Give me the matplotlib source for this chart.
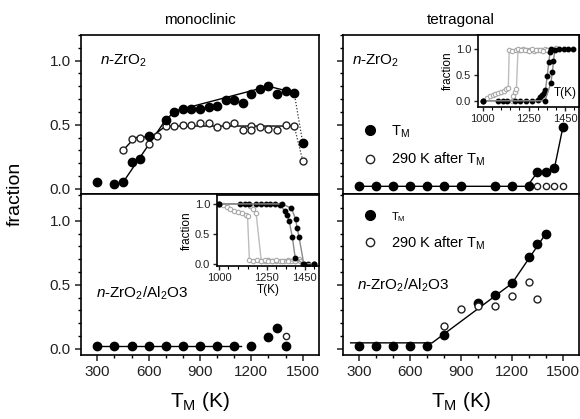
import numpy as np
import matplotlib
matplotlib.use("Agg")
import matplotlib.pyplot as plt
from matplotlib.lines import Line2D
from matplotlib.ticker import MultipleLocator, FixedLocator

plt.rcParams['font.family'] = ['Liberation Sans', 'DejaVu Sans']
plt.rcParams['mathtext.fontset'] = 'custom'
plt.rcParams['mathtext.rm'] = 'Liberation Sans'
plt.rcParams['mathtext.it'] = 'Liberation Sans:italic'
plt.rcParams['axes.linewidth'] = 1.2

# ---- monoclinic, n-ZrO2 ----
mono_zr_T = [300, 400, 450, 500, 550, 600, 700, 750, 800, 850, 900, 950, 1000,
             1050, 1100, 1150, 1200, 1250, 1300, 1350, 1400, 1450, 1500]
mono_zr_f = [0.05, 0.04, 0.05, 0.21, 0.23, 0.41, 0.54, 0.60, 0.62, 0.62, 0.62,
             0.64, 0.65, 0.69, 0.69, 0.67, 0.74, 0.78, 0.80, 0.74, 0.76, 0.75, 0.36]
mono_zr_T_rt = [450, 500, 550, 600, 650, 700, 750, 800, 850, 900, 950, 1000,
                1050, 1100, 1150, 1200, 1200, 1250, 1300, 1350, 1400, 1450, 1500]
mono_zr_f_rt = [0.30, 0.39, 0.40, 0.35, 0.41, 0.49, 0.49, 0.50, 0.50, 0.51,
                0.51, 0.48, 0.50, 0.51, 0.46, 0.49, 0.46, 0.48, 0.47, 0.46,
                0.50, 0.49, 0.22]
mono_zr_fit_T = [450, 700, 760, 1300, 1450]
mono_zr_fit_f = [0.05, 0.54, 0.61, 0.80, 0.75]
mono_zr_fit_T_rt = [450, 520, 620, 700, 1450]
mono_zr_fit_f_rt = [0.30, 0.40, 0.41, 0.49, 0.49]
mono_zr_drop_T = [1450, 1500]
mono_zr_drop_f = [0.75, 0.36]
mono_zr_drop_f_rt = [0.49, 0.22]

# ---- monoclinic, n-ZrO2/Al2O3 ----
mono_al_T = [300, 400, 500, 600, 700, 800, 900, 1000, 1100, 1200, 1300, 1350, 1400]
mono_al_f = [0.02, 0.02, 0.02, 0.02, 0.02, 0.02, 0.02, 0.02, 0.02, 0.02, 0.09, 0.16, 0.02]
mono_al_T_rt = [1400]
mono_al_f_rt = [0.10]
mono_al_fit_T = [300, 1140]
mono_al_fit_f = [0.02, 0.02]

# ---- tetragonal, n-ZrO2 ----
tet_zr_T = [300, 400, 500, 600, 700, 800, 900, 1100, 1200, 1300, 1350, 1400, 1450, 1500]
tet_zr_f = [0.02, 0.02, 0.02, 0.02, 0.02, 0.02, 0.02, 0.02, 0.02, 0.02, 0.13, 0.13, 0.16, 0.48]
tet_zr_T_rt = [1350, 1400, 1450, 1500]
tet_zr_f_rt = [0.02, 0.02, 0.02, 0.02]
tet_zr_fit_T = [300, 1290, 1350, 1400, 1450, 1500]
tet_zr_fit_f = [0.02, 0.02, 0.13, 0.13, 0.16, 0.48]

# ---- tetragonal, n-ZrO2/Al2O3 ----
tet_al_T = [300, 400, 500, 600, 700, 800, 1000, 1100, 1200, 1300, 1350, 1400]
tet_al_f = [0.02, 0.02, 0.02, 0.02, 0.02, 0.11, 0.36, 0.42, 0.51, 0.72, 0.82, 0.90]
tet_al_T_rt = [800, 900, 1000, 1100, 1200, 1300, 1350]
tet_al_f_rt = [0.18, 0.31, 0.33, 0.33, 0.41, 0.52, 0.39]
tet_al_fit_T = [250, 730, 1200, 1410]
tet_al_fit_f = [0.045, 0.045, 0.51, 0.92]

# ---- inset: tetragonal fraction vs T (n-ZrO2) ----
ins_t_heat1_T = [1000, 1025, 1040, 1055, 1070, 1085, 1100, 1115, 1130, 1140, 1145,
                 1160, 1180, 1200, 1220, 1240, 1260, 1280, 1300, 1320, 1340, 1360, 1380]
ins_t_heat1_f = [0.0, 0.06, 0.09, 0.11, 0.13, 0.15, 0.17, 0.19, 0.22, 0.25, 0.98,
                 0.97, 0.99, 0.98, 1.0, 0.98, 0.99, 0.97, 0.99, 0.98, 1.0, 0.98, 0.99]
ins_t_heat2_T = [1000, 1160, 1168, 1176, 1184, 1193, 1210, 1230, 1250, 1270, 1290,
                 1310, 1330, 1350, 1370, 1390, 1400]
ins_t_heat2_f = [0.0, 0.0, 0.10, 0.17, 0.22, 1.0, 0.98, 0.99, 0.97, 1.0, 0.98,
                 0.99, 0.97, 0.99, 0.98, 1.0, 1.02]
ins_t_cool1_T = [1000, 1085, 1110, 1135, 1175, 1205, 1235, 1270, 1300, 1312, 1322,
                 1332, 1342, 1352, 1360, 1368, 1375]
ins_t_cool1_f = [0.0, 0.0, 0.0, 0.0, 0.0, 0.0, 0.0, 0.0, 0.02, 0.08, 0.12, 0.15,
                 0.20, 0.48, 0.74, 0.95, 1.0]
ins_t_cool2_T = [1000, 1340, 1372, 1380, 1386, 1393, 1418, 1443, 1465, 1490]
ins_t_cool2_f = [0.0, 0.0, 0.35, 0.55, 0.76, 0.99, 1.0, 1.0, 1.0, 1.0]

# ---- inset: monoclinic fraction vs T (n-ZrO2/Al2O3) ----
ins_m_a_T = [1000, 1020, 1040, 1060, 1080, 1100, 1120, 1140, 1150, 1160, 1180,
             1200, 1220, 1240, 1260, 1280, 1300, 1320, 1340, 1360, 1380, 1400, 1420]
ins_m_a_f = [1.0, 0.98, 0.95, 0.92, 0.89, 0.87, 0.85, 0.82, 0.80, 0.06, 0.05,
             0.06, 0.04, 0.05, 0.06, 0.04, 0.05, 0.05, 0.04, 0.06, 0.05, 0.04, 0.07]
ins_m_b_T = [1000, 1150, 1165, 1180, 1195, 1222, 1240, 1260, 1280, 1300, 1330,
             1360, 1400, 1425]
ins_m_b_f = [1.0, 1.0, 0.97, 0.92, 0.85, 0.05, 0.06, 0.05, 0.04, 0.06, 0.05,
             0.05, 0.04, 0.05]
ins_m_c_T = [1000, 1110, 1135, 1160, 1195, 1220, 1245, 1270, 1295, 1320, 1345,
             1355, 1368, 1385, 1400, 1440, 1468, 1500]
ins_m_c_f = [1.0, 1.0, 1.0, 1.0, 1.0, 1.0, 1.0, 1.0, 1.0, 0.99, 0.88, 0.82,
             0.72, 0.45, 0.1, 0.0, 0.0, 0.0]
ins_m_d_T = [1000, 1330, 1380, 1402, 1410, 1420, 1445, 1500]
ins_m_d_f = [1.0, 1.0, 0.93, 0.75, 0.6, 0.45, 0.0, 0.0]

xticks_main = [300, 600, 900, 1200, 1500]
yticks_main = [0.0, 0.5, 1.0]
xticks_inset = [1000, 1250, 1450]

fig = plt.figure(figsize=(5.8, 4.19), dpi=100)
W, H = 580.0, 419.0

def box(x0, y0, x1, y1):
    return [x0 / W, 1 - y1 / H, (x1 - x0) / W, (y1 - y0) / H]

ax_ml = fig.add_axes(box(81, 35, 319, 194))
ax_tl = fig.add_axes(box(343, 35, 579, 194))
ax_mb = fig.add_axes(box(81, 194, 319, 355))
ax_tb = fig.add_axes(box(343, 194, 579, 355))

fill_kw = dict(ls='none', marker='o', ms=6, mfc='black', mec='black')
open_kw = dict(ls='none', marker='o', ms=5, mfc='white', mec='#222222', mew=1.0)
fit_kw = dict(color='black', lw=1.0)

for ax, top in [(ax_ml, True), (ax_tl, True), (ax_mb, False), (ax_tb, False)]:
    ax.set_xlim(205, 1595)
    if top:
        ax.set_ylim(-0.04, 1.2)
    else:
        ax.set_ylim(-0.05, 1.21)
    ax.xaxis.set_major_locator(FixedLocator(xticks_main))
    ax.xaxis.set_minor_locator(MultipleLocator(100))
    ax.yaxis.set_major_locator(FixedLocator(yticks_main))
    ax.yaxis.set_minor_locator(MultipleLocator(0.1))
    ax.tick_params(which='major', direction='out', length=4, width=1.1, labelsize=11,
                   colors='#222222')
    ax.tick_params(which='minor', direction='out', length=2.5, width=1.0)
    if top:
        ax.tick_params(axis='x', which='both', labelbottom=False)
    if ax in (ax_tl, ax_tb):
        ax.tick_params(axis='y', which='both', labelleft=False)
    else:
        ax.set_yticklabels(['0.0', '0.5', '1.0'])

# monoclinic n-ZrO2
ax_ml.plot(mono_zr_fit_T, mono_zr_fit_f, **fit_kw)
ax_ml.plot(mono_zr_fit_T_rt, mono_zr_fit_f_rt, **fit_kw)
ax_ml.plot(mono_zr_drop_T, mono_zr_drop_f, color='#333333', lw=0.9, ls=(0, (1, 1.5)))
ax_ml.plot(mono_zr_drop_T, mono_zr_drop_f_rt, color='#333333', lw=0.9, ls=(0, (1, 1.5)))
ax_ml.plot(mono_zr_T_rt, mono_zr_f_rt, **open_kw)
ax_ml.plot(mono_zr_T, mono_zr_f, **fill_kw)
ax_ml.text(0.08, 0.835, r'$n$-ZrO$_2$', transform=ax_ml.transAxes, fontsize=11,
           va='center', ha='left')

# monoclinic n-ZrO2/Al2O3
ax_mb.plot(mono_al_fit_T, mono_al_fit_f, **fit_kw)
ax_mb.plot(mono_al_T, mono_al_f, **fill_kw)
ax_mb.plot(mono_al_T_rt, mono_al_f_rt, **dict(open_kw, ms=4.5))
ax_mb.text(0.063, 0.385, r'$n$-ZrO$_2$/Al$_2$O3', transform=ax_mb.transAxes,
           fontsize=11, va='center', ha='left')

# tetragonal n-ZrO2
ax_tl.plot(tet_zr_fit_T, tet_zr_fit_f, **fit_kw)
ax_tl.plot(tet_zr_T_rt, tet_zr_f_rt, **dict(open_kw, ms=4.5))
ax_tl.plot(tet_zr_T, tet_zr_f, **fill_kw)
ax_tl.text(0.04, 0.835, r'$n$-ZrO$_2$', transform=ax_tl.transAxes, fontsize=11,
           va='center', ha='left')

# tetragonal n-ZrO2/Al2O3
ax_tb.plot(tet_al_fit_T, tet_al_fit_f, **fit_kw)
ax_tb.plot(tet_al_T, tet_al_f, **fill_kw)
ax_tb.plot(tet_al_T_rt, tet_al_f_rt, **open_kw)
ax_tb.text(0.06, 0.435, r'$n$-ZrO$_2$/Al$_2$O3', transform=ax_tb.transAxes,
           fontsize=11, va='center', ha='left')

h_fill = Line2D([], [], **dict(fill_kw, ms=7))
h_open = Line2D([], [], **dict(open_kw, ms=6))
leg1 = ax_tl.legend([h_fill, h_open], [r'T$_\mathrm{M}$', r'290 K after T$_\mathrm{M}$'],
                    loc='upper left', bbox_to_anchor=(0.06, 0.48), frameon=False,
                    fontsize=10.5, handlelength=1.0, handletextpad=0.9, labelspacing=0.75,
                    borderaxespad=0)
leg2 = ax_tb.legend([h_fill, h_open], [r'T$_\mathrm{M}$', r'290 K after T$_\mathrm{M}$'],
                    loc='upper left', bbox_to_anchor=(0.06, 0.94), frameon=False,
                    fontsize=10.5, handlelength=1.0, handletextpad=0.9, labelspacing=0.75,
                    borderaxespad=0)
leg2.get_texts()[0].set_fontsize(8)

fig.text(200 / W, 1 - 20 / H, 'monoclinic', ha='center', va='center', fontsize=11)
fig.text(461 / W, 1 - 20 / H, 'tetragonal', ha='center', va='center', fontsize=11)
fig.text(15 / W, 1 - 194 / H, 'fraction', rotation=90, ha='center', va='center',
         fontsize=14)
fig.text(200 / W, 1 - 401 / H, r'T$_\mathrm{M}$ (K)', ha='center', va='center', fontsize=15)
fig.text(461 / W, 1 - 401 / H, r'T$_\mathrm{M}$ (K)', ha='center', va='center', fontsize=15)

# insets
in_t = fig.add_axes(box(478, 35, 579, 107))
in_m = fig.add_axes(box(217, 195, 319, 266))

light = dict(color='#bdbdbd', lw=1.0, marker='o', ms=3.2, mfc='white', mec='#a8a8a8', mew=0.8)
dark = dict(color='#8a8a8a', lw=1.0, marker='o', ms=3.2, mfc='black', mec='black')

in_t.plot(ins_t_heat1_T, ins_t_heat1_f, **light)
in_t.plot(ins_t_heat2_T, ins_t_heat2_f, **light)
in_t.plot(ins_t_cool1_T, ins_t_cool1_f, **dark)
in_t.plot(ins_t_cool2_T, ins_t_cool2_f, **dark)
in_t.set_xlim(975, 1525)
in_t.set_ylim(-0.12, 1.27)

in_m.plot(ins_m_a_T, ins_m_a_f, **light)
in_m.plot(ins_m_b_T, ins_m_b_f, **light)
in_m.plot(ins_m_c_T, ins_m_c_f, **dark)
in_m.plot(ins_m_d_T, ins_m_d_f, **dark)
in_m.set_xlim(990, 1525)
in_m.set_ylim(-0.04, 1.15)

for ax in (in_t, in_m):
    ax.xaxis.set_major_locator(FixedLocator(xticks_inset))
    ax.xaxis.set_minor_locator(MultipleLocator(50))
    ax.yaxis.set_major_locator(FixedLocator(yticks_main))
    ax.set_yticklabels(['0.0', '0.5', '1.0'])
    ax.tick_params(which='major', direction='out', length=3, width=1.0, labelsize=8,
                   pad=2, colors='#222222')
    ax.tick_params(which='minor', direction='out', length=2, width=0.8)
    ax.set_ylabel('fraction', fontsize=8.5, labelpad=1)

in_t.text(0.98, 0.2, 'T(K)', transform=in_t.transAxes, ha='right', va='center',
          fontsize=8.5)
in_m.set_xlabel('T(K)', fontsize=8.5, labelpad=1)

fig.savefig('out.png', dpi=100)
